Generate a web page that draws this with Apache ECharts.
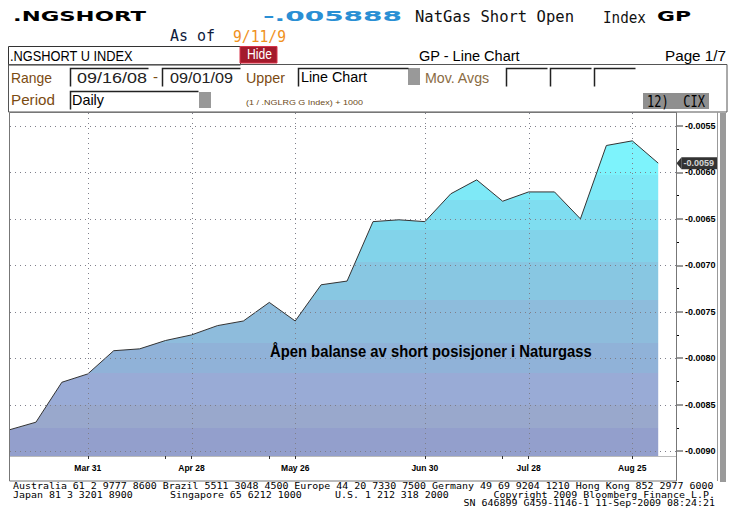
<!DOCTYPE html>
<html><head><meta charset="utf-8">
<script src="https://cdn.jsdelivr.net/npm/echarts@6/dist/echarts.min.js"></script>
<style>html,body{margin:0;padding:0;background:#fff}#c{width:736px;height:527px}</style>
</head><body><div id="c"></div>
<script>
// ---- data ----
const dates = ['2009-03-10','2009-03-17','2009-03-24','2009-03-31','2009-04-07','2009-04-14','2009-04-21','2009-04-28',
  '2009-05-05','2009-05-12','2009-05-19','2009-05-26','2009-06-02','2009-06-09','2009-06-16','2009-06-23','2009-06-30',
  '2009-07-07','2009-07-14','2009-07-21','2009-07-28','2009-08-04','2009-08-11','2009-08-18','2009-08-25','2009-09-01'];
const values = [-0.00877,-0.00869,-0.00826,-0.00817,-0.00792,-0.00790,-0.00781,-0.00775,
  -0.00765,-0.00760,-0.00740,-0.00760,-0.00721,-0.00717,-0.00653,-0.00651,-0.00653,
  -0.00623,-0.00608,-0.00631,-0.00621,-0.00621,-0.00650,-0.00571,-0.00566,-0.00590];
const yTickValues = [-0.0055,-0.0060,-0.0065,-0.0070,-0.0075,-0.0080,-0.0085,-0.0090];
const yTickLabels = ['-0.0055','-0.0060','-0.0065','-0.0070','-0.0075','-0.0080','-0.0085','-0.0090'];
const yMinorTickValues = [-0.00575,-0.00625,-0.00675,-0.00725,-0.00775,-0.00825,-0.00875];
const xLabelDates = ['2009-03-31','2009-04-28','2009-05-26','2009-06-30','2009-07-28','2009-08-25'];
const xLabelTexts = ['Mar 31','Apr 28','May 26','Jun 30','Jul 28','Aug 25'];
const xExtraTickDates = ['2009-04-21','2009-05-19','2009-07-21'];
const xStartDate = '2009-03-10';
const xSpanDays = 179.8;
const yMin = -0.009054, yMax = -0.00536;
const lastLabel = '-0.0059';

const t = s => new Date(s + 'T00:00:00').getTime();
const xMin = t(xStartDate), xMax = t(xStartDate) + xSpanDays * 86400000;
const xLabelTimes = xLabelDates.map(t);
const xTickTimes = xLabelDates.concat(xExtraTickDates).map(t);

// ---- text helpers ----
const mctx = document.createElement('canvas').getContext('2d');
function fitScale(text, font, w) { mctx.font = font; const m = mctx.measureText(text).width; return m > 0 ? w / m : 1; }
function txt(text, x, y, font, fill, w, align) {
  return { type: 'text', x: x, y: y, z: 20, silent: true,
    scaleX: w ? fitScale(text, font, w) : 1,
    style: { text: text, font: font, fill: fill, align: align || 'left', verticalAlign: 'middle',
             textAlign: align || 'left', textVerticalAlign: 'middle' } };
}
function rect(x, y, w, h, fill, stroke, lw) {
  return { type: 'rect', z: 15, silent: true, shape: { x: x, y: y, width: w, height: h },
    style: { fill: fill || 'none', stroke: stroke || 'none', lineWidth: lw || 1 } };
}
function inset(x, y, w, h) {
  return { type: 'polyline', z: 16, silent: true, shape: { points: [[x, y + h], [x, y], [x + w, y]] },
    style: { stroke: '#222', lineWidth: 1.5, fill: 'none' } };
}
const AR = "'Liberation Sans', Arial, sans-serif";
const MONO = "'DejaVu Sans Mono', monospace";
const DV = "'DejaVu Sans', sans-serif";
const BROWN = '#7b4b12';

const graphics = [
  txt('.NGSHORT', 13, 16, 'bold 14px ' + DV, '#000', 133),
  txt('-.005888', 263, 16, 'bold 14px ' + DV, '#2a8fd4', 139),
  txt('NatGas Short Open', 415, 17, '15px ' + MONO, '#111', 159),
  txt('Index', 603, 17, '15px ' + MONO, '#111', 43),
  txt('GP', 657, 16, 'bold 14px ' + DV, '#000', 34),
  txt('As of', 170, 36, '15px ' + MONO, '#0d1a3c', 45),
  txt('9/11/9', 233, 36, '15px ' + MONO, '#f0921e', 53),
  rect(8.5, 46.5, 232, 18.5, '#fff', '#333', 1),
  txt('.NGSHORT U INDEX', 10, 56, '15px ' + AR, '#000', 123),
  rect(240, 46.5, 37, 16.5, '#a31a2b', '#d8344a', 1),
  txt('Hide', 247, 54, '14px ' + AR, '#fff', 25),
  txt('GP - Line Chart', 419, 56, '15px ' + AR, '#000', 101),
  txt('Page 1/7', 726, 56, '15px ' + AR, '#000', 61, 'right'),
  rect(8.5, 64.5, 718.5, 47.5, 'none', '#555', 1),
  txt('Range', 11, 78, '15px ' + AR, BROWN, 41),
  inset(70.5, 68.5, 78, 18), txt('09/16/08', 77, 78, '15px ' + AR, '#222', 70),
  txt('-', 153, 77, '15px ' + AR, BROWN, 5),
  inset(162.5, 68.5, 78, 18), txt('09/01/09', 170, 78, '15px ' + AR, '#222', 63),
  txt('Upper', 246, 78, '15px ' + AR, BROWN, 39),
  inset(298.5, 68.5, 110, 18), txt('Line Chart', 301, 77, '15px ' + AR, '#000', 66),
  rect(408, 68, 12, 17, '#999', 'none'),
  txt('Mov. Avgs', 425, 78, '15px ' + AR, '#8a6b43', 65),
  inset(506.5, 68.5, 41, 18), inset(550.5, 68.5, 41, 18), inset(594.5, 68.5, 41, 18),
  txt('Period', 11, 100, '15px ' + AR, BROWN, 44),
  inset(70.5, 91.5, 128, 18), txt('Daily', 72, 100, '15px ' + AR, '#000', 32),
  rect(199, 92, 12, 16, '#999', 'none'),
  txt('(1 / .NGLRG G Index) + 1000', 246, 102, '8px ' + AR, '#6b4a1a', 117),
  rect(643, 93, 66, 16, '#8f8f8f', 'none'),
  txt('12)  CIX', 647, 101, '15px ' + MONO, '#000', 58),
  rect(9.5, 112.5, 667, 368.5, 'none', '#777', 1),
  { type: 'line', z: 15, silent: true, shape: { x1: 717.5, y1: 112, x2: 717.5, y2: 481 }, style: { stroke: '#999', lineWidth: 1 } },
  rect(720, 113, 6, 369, '#9a9a9a', 'none'),
  txt('Åpen balanse av short posisjoner i Naturgass', 270, 351, 'bold 16px ' + AR, '#000', 322),
  txt('Australia 61 2 9777 8600 Brazil 5511 3048 4500 Europe 44 20 7330 7500 Germany 49 69 9204 1210 Hong Kong 852 2977 6000', 13, 486.5, '8px ' + MONO, '#000', 702),
  txt('Japan 81 3 3201 8900', 13, 495, '8px ' + MONO, '#000', 120),
  txt('Singapore 65 6212 1000', 170, 495, '8px ' + MONO, '#000', 132),
  txt('U.S. 1 212 318 2000', 335, 495, '8px ' + MONO, '#000', 114),
  txt('Copyright 2009 Bloomberg Finance L.P.', 715, 495, '8px ' + MONO, '#000', 222, 'right'),
  txt('SN 646899 G459-1146-1 11-Sep-2009 08:24:21', 715, 503.5, '8px ' + MONO, '#000', 252, 'right')
];

const bandStops = [
  [0.000, '#7df3fc'], [0.108, '#7ee9f7'], [0.187, '#7fddf0'], [0.283, '#82d3ea'], [0.384, '#88c7e2'],
  [0.505, '#8ebcdc'], [0.641, '#90b2d8'], [0.737, '#99abd6'], [0.838, '#99a8cc'], [0.911, '#939fcc']
];
const stops = [];
bandStops.forEach((b, i) => {
  const end = i + 1 < bandStops.length ? bandStops[i + 1][0] : 1;
  stops.push({ offset: b[0], color: b[1] }, { offset: end, color: b[1] });
});

const seriesData = dates.map((d, i) => [t(d), values[i]]);
const dotStyle = { stroke: '#7f7f8a', lineWidth: 1, lineDash: [1, 4] };
function gridRender(horizontal) {
  return function (params, api) {
    const p = api.coord([api.value(0), api.value(1)]);
    const cs = params.coordSys;
    if (horizontal) {
      const y = Math.round(p[1]) + 0.5;
      return { type: 'line', shape: { x1: cs.x, y1: y, x2: cs.x + cs.width, y2: y }, style: dotStyle, z2: 10 };
    }
    const x = Math.round(p[0]) + 0.5;
    return { type: 'line', shape: { x1: x, y1: cs.y, x2: x, y2: cs.y + cs.height }, style: dotStyle, z2: 10 };
  };
}

const chart = echarts.init(document.getElementById('c'), null, { renderer: 'svg' });
chart.setOption({
  animation: false,
  backgroundColor: '#fff',
  grid: { left: 10, right: 60, top: 113, bottom: 71, show: false },
  xAxis: {
    type: 'value', min: xMin, max: xMax, scale: true,
    axisLine: { show: true, lineStyle: { color: '#bbb' } },
    axisTick: { show: true, customValues: xTickTimes, length: 3, lineStyle: { color: '#333' } },
    axisLabel: { customValues: xLabelTimes, hideOverlap: false, margin: 7,
      formatter: v => { const i = xLabelTimes.indexOf(v); return i >= 0 ? xLabelTexts[i] : ''; },
      fontFamily: 'Liberation Sans', fontWeight: 'bold', fontSize: 8.5, color: '#000' },
    splitLine: { show: false }
  },
  yAxis: [{
    type: 'value', position: 'right', min: yMin, max: yMax,
    axisLine: { show: true, lineStyle: { color: '#666' } },
    axisTick: { show: true, customValues: yTickValues, length: 7, lineStyle: { color: '#999', width: 2 } },
    axisLabel: { customValues: yTickValues, margin: 9, hideOverlap: false,
      formatter: v => { const i = yTickValues.findIndex(x => Math.abs(x - v) < 1e-9); return i >= 0 ? yTickLabels[i] : ''; },
      fontFamily: 'Liberation Sans', fontWeight: 'bold', fontSize: 9, color: '#000' },
    splitLine: { show: false }
  }, {
    type: 'value', position: 'right', min: yMin, max: yMax,
    axisLine: { show: false },
    axisTick: { show: true, customValues: yMinorTickValues, length: 3, lineStyle: { color: '#000' } },
    axisLabel: { show: false }, splitLine: { show: false }
  }],
  series: [{
    type: 'line', data: seriesData, symbol: 'none', z: 2,
    lineStyle: { color: '#333', width: 1 },
    areaStyle: { origin: 'start', opacity: 1, color: new echarts.graphic.LinearGradient(0, 0, 0, 1, stops) }
  }, {
    type: 'custom', z: 5, silent: true, clip: false, encode: { x: 0, y: 1 },
    data: yTickValues.map(v => [xMin, v]), renderItem: gridRender(true)
  }, {
    type: 'custom', z: 5, silent: true, clip: false, encode: { x: 0, y: 1 },
    data: xLabelTimes.map(x => [x, yMin]), renderItem: gridRender(false)
  }, {
    type: 'scatter', z: 6, silent: true, clip: false,
    data: [[xMax, values[values.length - 1]]],
    symbol: 'path://M0,5 L5,0 L5,10 Z', symbolSize: [5, 12], symbolOffset: [3, 0],
    itemStyle: { color: '#000' },
    label: { show: true, position: 'right', distance: 0, formatter: lastLabel, backgroundColor: '#000',
      color: '#fff', fontFamily: 'Liberation Sans', fontWeight: 'bold', fontSize: 9, padding: [2, 3, 1, 2] }
  }],
  graphic: graphics
});
</script></body></html>
